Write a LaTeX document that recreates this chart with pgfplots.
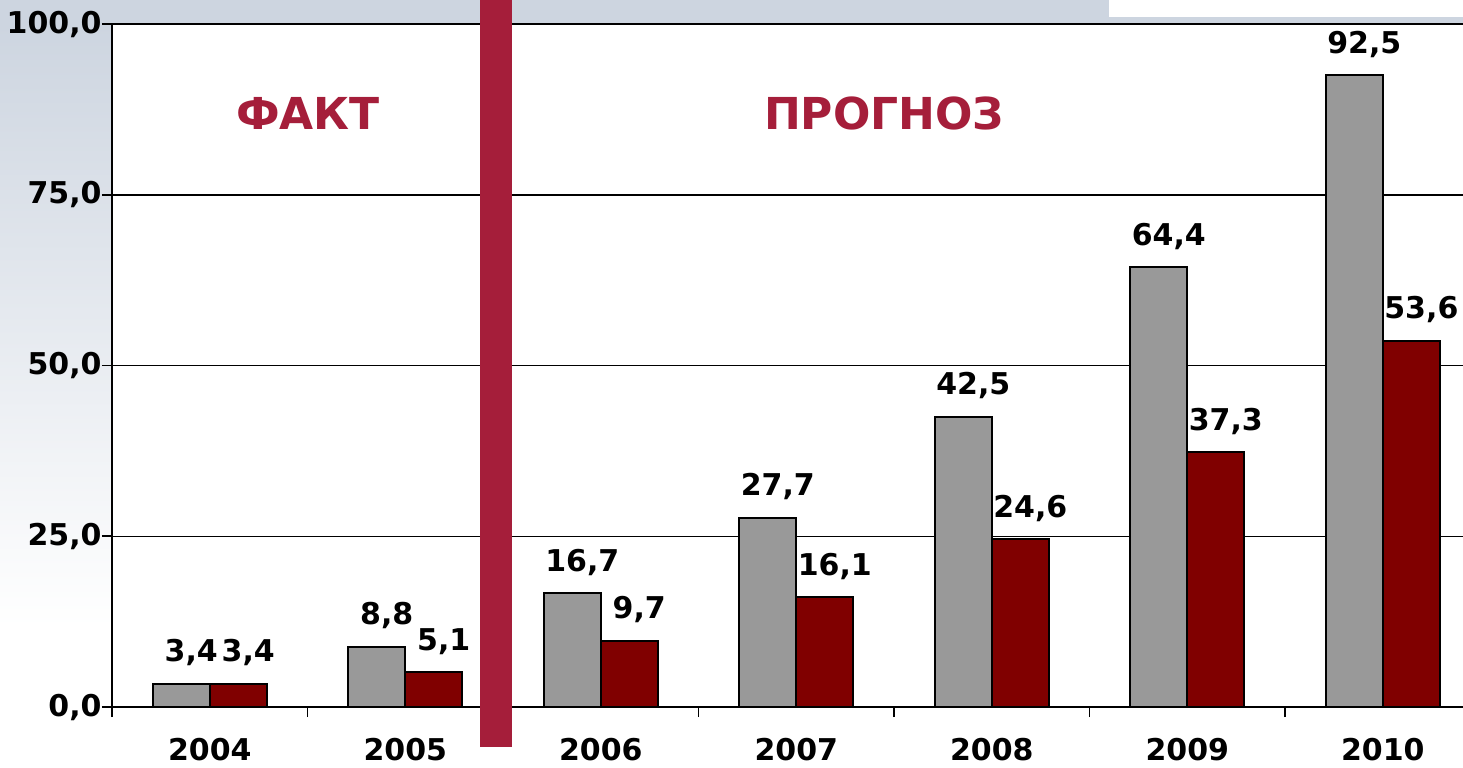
\documentclass[border=0pt]{standalone}
\usepackage{fontspec}
\setmainfont{DejaVu Sans}
\usepackage{pgfplots}
\pgfplotsset{compat=1.18}
\definecolor{grayb}{HTML}{999999}
\definecolor{redb}{HTML}{800000}
\definecolor{accent}{HTML}{A51E3A}
\definecolor{bgtop}{HTML}{CDD5E0}
\definecolor{bgmid}{HTML}{D3E2F7}
\begin{document}
\begin{tikzpicture}
\useasboundingbox (0,0) rectangle (731.5pt,383.5pt);
\fill[white] (0,0) rectangle (731.5pt,383.5pt);
\shade[top color=bgtop, middle color=bgmid, bottom color=white] (0,70pt) rectangle (56pt,371.5pt);
\fill[bgtop] (0,371.5pt) rectangle (731.5pt,383.5pt);
\fill[white] (554.5pt,375pt) rectangle (731.5pt,383.5pt);
\begin{axis}[
  at={(56pt,30pt)}, anchor=south west, scale only axis,
  width=675.5pt, height=341.5pt,
  xmin=-0.5, xmax=6.41, ymin=0, ymax=100,
  axis x line*=bottom, axis y line*=left,
  axis line style={-, line width=1pt, black},
  ytick={0,25,50,75,100},
  ymajorgrids, grid style={black, line width=0.75pt},
  tick align=outside, major tick length=5pt,
  tick style={black, line width=0.8pt},
  xtick={-0.5,0.5,1.5,2.5,3.5,4.5,5.5},
  xticklabels={,,,,,,},
  extra x ticks={0,1,2,3,4,5,6},
  extra x tick labels={2004,2005,2006,2007,2008,2009,2010},
  extra x tick style={major tick length=0pt, grid=none,
    xticklabel style={anchor=base, inner sep=0pt, yshift=-26.5pt}},
  ticklabel style={font=\bfseries\fontsize{15}{18}\selectfont},
  yticklabel style={inner sep=0pt, xshift=0pt},
  ybar=0pt, bar width=28.5pt,
  nodes near coords,
  nodes near coords style={font=\bfseries\fontsize{15}{18}\selectfont, xshift=5pt, yshift=5pt, black},
  /pgf/number format/use comma,
  /pgf/number format/fixed,
  /pgf/number format/fixed zerofill,
  /pgf/number format/precision=1,
  /pgf/number format/assume math mode=true,
  clip=false,
]
\addplot[fill=grayb, draw=black, line width=1pt] coordinates {(0,3.4) (1,8.8) (2,16.7) (3,27.7) (4,42.5) (5,64.4) (6,92.5)};
\addplot[fill=redb, draw=black, line width=1pt] coordinates {(0,3.4) (1,5.1) (2,9.7) (3,16.1) (4,24.6) (5,37.3) (6,53.6)};
\end{axis}
\fill[accent] (240pt,10pt) rectangle (256pt,383.5pt);
\node[text=accent, font=\bfseries\fontsize{22}{26}\selectfont] at (154pt,327pt) {ФАКТ};
\node[text=accent, font=\bfseries\fontsize{22}{26}\selectfont] at (442pt,327pt) {ПРОГНОЗ};
\end{tikzpicture}
\end{document}
